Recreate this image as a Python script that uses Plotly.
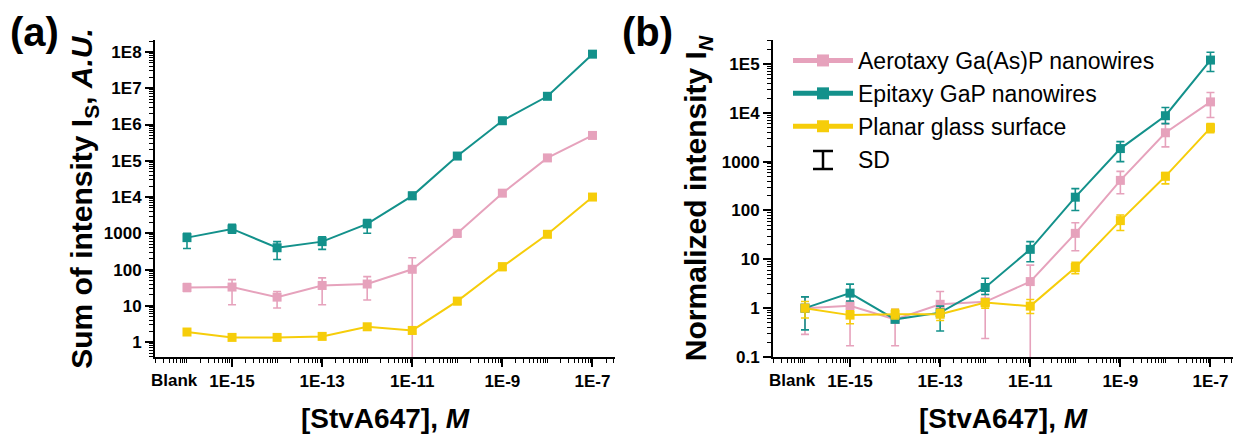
import plotly.graph_objects as go
from plotly.subplots import make_subplots

# ---------------- data ----------------
conc = [1e-16, 1e-15, 1e-14, 1e-13, 1e-12, 1e-11, 1e-10, 1e-9, 1e-8, 1e-7]  # 1e-16 == "Blank"
blank_pos = 1e-16
blank_label = "Blank"
x_tick_vals = [1e-15, 1e-13, 1e-11, 1e-9, 1e-7]
x_tick_text = ["1E-15", "1E-13", "1E-11", "1E-9", "1E-7"]
x_unlabeled_ticks = [1e-16, 1e-14, 1e-12, 1e-10, 1e-8]

ya_tick_vals = [1, 10, 100, 1000, 1e4, 1e5, 1e6, 1e7, 1e8]
ya_tick_text = ["1", "10", "100", "1000", "1E4", "1E5", "1E6", "1E7", "1E8"]
yb_tick_vals = [0.1, 1, 10, 100, 1000, 1e4, 1e5]
yb_tick_text = ["0.1", "1", "10", "100", "1000", "1E4", "1E5"]

series_names = ["Aerotaxy Ga(As)P nanowires", "Epitaxy GaP nanowires", "Planar glass surface"]
series_colors = ["#e6a2bc", "#13918b", "#f6cd0a"]

# panel (a): sum of intensity
pink_a = [32, 33, 17.4, 36.5, 40, 102, 1000, 12800, 120000, 500000]
pink_a_hi = [41, 53, 25, 59, 64, 213, 1250, 15500, 145000, 600000]
pink_a_lo = [25, 10.7, 8.7, 10.7, 14.5, 0.1, 800, 10500, 100000, 410000]
teal_a = [760, 1320, 400, 590, 1820, 10800, 135000, 1.27e6, 6.0e6, 8.7e7]
teal_a_hi = [1000, 1780, 590, 800, 2400, 13500, 165000, 1.5e6, 7.2e6, 1.05e8]
teal_a_lo = [380, 1000, 190, 360, 1000, 8800, 110000, 1.05e6, 5.0e6, 7.2e7]
yellow_a = [1.9, 1.35, 1.35, 1.44, 2.65, 2.1, 13.5, 120, 940, 10000]
yellow_a_hi = [2.3, 1.6, 1.6, 1.75, 3.2, 2.5, 16.5, 150, 1150, 12000]
yellow_a_lo = [1.6, 1.15, 1.15, 1.2, 2.2, 1.7, 11, 95, 780, 8300]

# panel (b): normalized intensity
pink_b = [1.0, 1.12, 0.59, 1.2, 1.35, 3.5, 34, 413, 3900, 16700]
pink_b_hi = [1.7, 1.4, 0.95, 2.2, 1.9, 7.6, 56, 630, 6000, 26000]
pink_b_lo = [0.29, 0.17, 0.17, 0.88, 0.24, 0.03, 15, 220, 2000, 8000]
teal_b = [1.0, 2.03, 0.59, 0.81, 2.65, 16, 187, 1850, 8700, 120000]
teal_b_hi = [1.7, 3.1, 0.65, 1.1, 4.1, 23, 280, 2570, 12800, 174000]
teal_b_lo = [0.36, 1.4, 0.55, 0.34, 1.9, 8.9, 100, 1000, 6000, 70000]
yellow_b = [1.0, 0.72, 0.75, 0.75, 1.3, 1.1, 6.8, 62, 500, 4900]
yellow_b_hi = [1.37, 0.88, 0.95, 0.95, 1.5, 1.5, 8.7, 81, 600, 6000]
yellow_b_lo = [0.63, 0.48, 0.6, 0.56, 1.0, 0.78, 5.1, 39, 350, 3900]

# ---------------- figure ----------------
FONT = "Liberation Sans, Arial, sans-serif"
W, H = 1238, 437
X_RANGE = [-16.71, -6.5]

fig = make_subplots(rows=1, cols=2)

panel_a = [(pink_a, pink_a_hi, pink_a_lo), (teal_a, teal_a_hi, teal_a_lo), (yellow_a, yellow_a_hi, yellow_a_lo)]
panel_b = [(pink_b, pink_b_hi, pink_b_lo), (teal_b, teal_b_hi, teal_b_lo), (yellow_b, yellow_b_hi, yellow_b_lo)]


def add_series(col, data, show):
    for (vals, hi, lo), name, color in zip(data, series_names, series_colors):
        fig.add_trace(go.Scatter(
            x=conc, y=vals, name=name, mode="lines+markers",
            line=dict(color=color, width=2),
            marker=dict(symbol="square", size=9, color=color),
            error_y=dict(type="data", symmetric=False,
                         array=[h - v for h, v in zip(hi, vals)],
                         arrayminus=[v - l for v, l in zip(vals, lo)],
                         color=color, thickness=1.6, width=4),
            showlegend=show, cliponaxis=True,
        ), row=1, col=col)


add_series(1, panel_a, False)
add_series(2, panel_b, True)

# legend entry for the standard deviation bars (glyph drawn as shapes below)
fig.add_trace(go.Scatter(
    x=[None], y=[None], name="SD", mode="markers",
    marker=dict(symbol="square", size=1, color="rgba(0,0,0,0)"),
    showlegend=True), row=1, col=2)

xtickfont = dict(family=FONT, size=17, color="black", weight="bold")
ytickfont = dict(family=FONT, size=17, color="black", weight="bold")
NB = "\u00a0"
common_x = dict(type="log", range=X_RANGE, tickmode="array",
                tickvals=x_tick_vals, ticktext=x_tick_text, tickangle=0,
                ticks="outside", ticklen=8, tickwidth=2, tickcolor="black",
                minor=dict(ticks="outside", ticklen=4, tickwidth=1.2, tickcolor="black", dtick="D1"),
                showline=True, linecolor="black", linewidth=2, showgrid=False,
                zeroline=False, mirror=False, tickfont=xtickfont, automargin=False,
                title=dict(text=NB * 4 + "<b>[StvA647], <i>M</i></b>",
                           font=dict(family=FONT, size=28, color="black"), standoff=18))
common_y = dict(type="log", tickmode="array", tickangle=0,
                ticks="outside", ticklen=8, tickwidth=2, tickcolor="black",
                minor=dict(ticks="outside", ticklen=4, tickwidth=1.2, tickcolor="black", dtick="D1"),
                showline=True, linecolor="black", linewidth=2, showgrid=False,
                zeroline=False, mirror=False, tickfont=ytickfont, automargin=False)

ydom = [(H - 357) / H, (H - 40) / H]
dom_a = [155 / W, 615 / W]
dom_b = [773 / W, 1233 / W]
fig.update_xaxes(domain=dom_a, row=1, col=1, **common_x)
fig.update_xaxes(domain=dom_b, row=1, col=2, **common_x)
fig.update_yaxes(domain=ydom, range=[-0.41, 8.33], tickvals=ya_tick_vals, ticktext=ya_tick_text,
                 title=dict(text="<b>Sum of intensity I<sub>S</sub>, <i>A.U.</i></b>",
                            font=dict(family=FONT, size=30, color="black"), standoff=2),
                 row=1, col=1, **common_y)
fig.update_yaxes(domain=ydom, range=[-1, 5.49], tickvals=yb_tick_vals, ticktext=yb_tick_text,
                 title=dict(text="<b>Normalized intensity I<sub><i>N</i></sub></b>",
                            font=dict(family=FONT, size=30, color="black"), standoff=6),
                 row=1, col=2, **common_y)

# unlabeled major ticks at the remaining decades (overlay axes, no labels)
overlay = dict(type="log", range=X_RANGE, tickmode="array", tickvals=x_unlabeled_ticks,
               ticks="outside", ticklen=8, tickwidth=2, tickcolor="black",
               showticklabels=False, showline=False, showgrid=False, zeroline=False,
               automargin=False)
fig.update_layout(
    xaxis3=dict(overlaying="x", anchor="y", domain=dom_a, **overlay),
    xaxis4=dict(overlaying="x2", anchor="y2", domain=dom_b, **overlay),
)

# "Blank" label, set slightly left of its tick as in the original
for xr in ("x", "x2"):
    fig.add_annotation(text="<b>" + blank_label + "</b>", x=-16, xref=xr,
                       y=1 - 380 / H, yref="paper", xanchor="center", yanchor="middle",
                       xshift=-12, showarrow=False,
                       font=dict(family=FONT, size=17, color="black"))

fig.add_annotation(text="<b>(a)</b>", x=8 / W, y=1 - 8 / H, xref="paper", yref="paper",
                   xanchor="left", yanchor="top", showarrow=False,
                   font=dict(family=FONT, size=40, color="black"))
fig.add_annotation(text="<b>(b)</b>", x=620 / W, y=1 - 8 / H, xref="paper", yref="paper",
                   xanchor="left", yanchor="top", showarrow=False,
                   font=dict(family=FONT, size=40, color="black"))

# SD glyph (I-beam) in the legend
sd_cx, sd_cy, sd_half_h, sd_half_w = 823, 160, 9, 10
for x0, y0, x1, y1 in [(sd_cx, sd_cy - sd_half_h, sd_cx, sd_cy + sd_half_h),
                       (sd_cx - sd_half_w, sd_cy - sd_half_h, sd_cx + sd_half_w, sd_cy - sd_half_h),
                       (sd_cx - sd_half_w, sd_cy + sd_half_h, sd_cx + sd_half_w, sd_cy + sd_half_h)]:
    fig.add_shape(type="line", xref="paper", yref="paper",
                  x0=x0 / W, x1=x1 / W, y0=1 - y0 / H, y1=1 - y1 / H,
                  line=dict(color="black", width=2.5))

fig.update_layout(
    width=W, height=H, margin=dict(l=0, r=0, t=0, b=0),
    paper_bgcolor="white", plot_bgcolor="white",
    font=dict(family=FONT, color="black"),
    legend=dict(x=788 / W, y=1 - 39 / H, xanchor="left", yanchor="top",
                bgcolor="rgba(0,0,0,0)", font=dict(family=FONT, size=23, color="black"),
                itemwidth=60, itemsizing="constant", tracegroupgap=0),
)

fig.write_html("out.html", config={"displayModeBar": False},
               post_script="document.body.style.margin='0';")
